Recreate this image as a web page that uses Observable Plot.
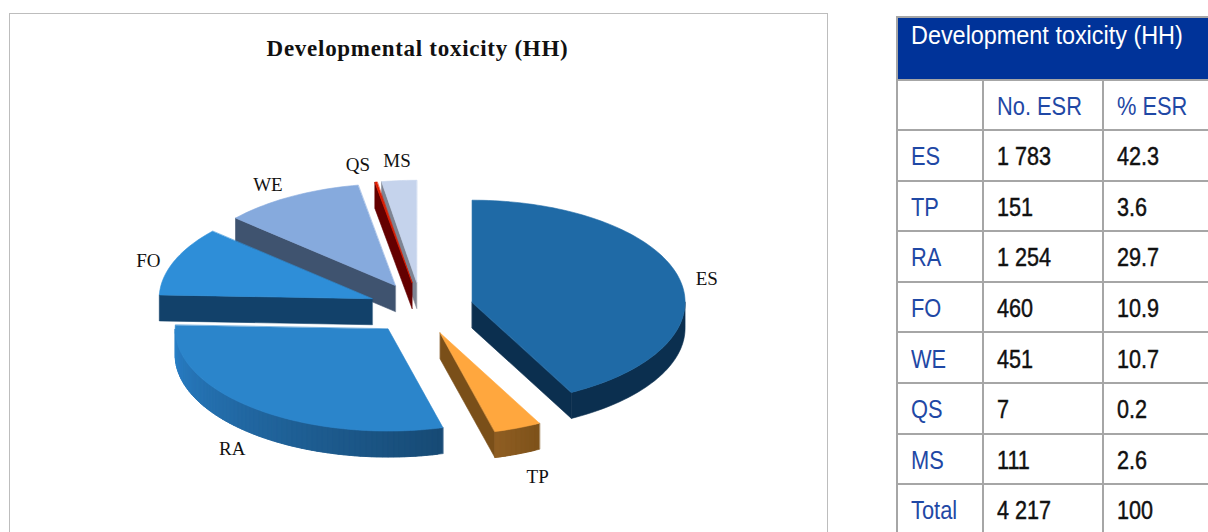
<!DOCTYPE html>
<html>
<head>
<meta charset="utf-8">
<script src="https://cdn.jsdelivr.net/npm/d3@7"></script>
<script src="https://cdn.jsdelivr.net/npm/@observablehq/plot@0.6"></script>
<style>
  html, body { margin: 0; padding: 0; background: #fff; }
  #page { position: relative; width: 1208px; height: 532px; overflow: hidden; background: #fff; }
  #frame { position: absolute; left: 9px; top: 13px; width: 817px; height: 540px; border: 1px solid #bdbdbd; box-sizing: content-box; }
  #frame svg { position: absolute; left: 0; top: 0; }
  #title { position: absolute; left: 0; top: 22px; width: 815px; text-align: center; font: bold 23px "Liberation Serif", serif; letter-spacing: 0.72px; color: #111; }
  table { position: absolute; left: 896px; top: 16px; width: 314px; height: 517px; border-collapse: collapse; table-layout: fixed; font-family: "Liberation Sans", sans-serif; font-size: 26px; }
  td, th { border: 2px solid #a6a6a6; padding: 3px 0 0 13px; text-align: left; font-weight: normal; white-space: nowrap; overflow: hidden; }
  td span, th span { display: inline-block; transform-origin: 0 50%; transform: scaleX(0.84); }
  th span { transform: scaleX(0.9); }
  td.val span { transform: scaleX(0.83); }
  th.head { background: #003399; color: #fff; vertical-align: top; padding-top: 0; line-height: 34px; border-color: #a6a6a6; }
  td.lab { color: #1f48a5; }
  td.val { color: #111; -webkit-text-stroke: 0.45px #111; }
</style>
</head>
<body>
<div id="page">
  <div id="frame"><div id="title">Developmental toxicity (HH)</div></div>
  <table id="tbl"></table>
</div>
<script>
const chartTitle = "Development toxicity (HH)";
const categories = ["ES", "TP", "RA", "FO", "WE", "QS", "MS"];
const counts = [1783, 151, 1254, 460, 451, 7, 111];
const countLabels = ["1 783", "151", "1 254", "460", "451", "7", "111"];
const percents = ["42.3", "3.6", "29.7", "10.9", "10.7", "0.2", "2.6"];
const totalRow = ["Total", "4 217", "100"];
const columnHeads = ["", "No. ESR", "% ESR"];

// Styling, by slice
const topColors  = ["#1f6aa6", "#ffa73e", "#2b85cb", "#2e8ed8", "#86aadd", "#e01d00", "#c5d3ec"];
const wallColors = ["#0b2f4f", "#7a4f19", "#2a80c8", "#12416a", "#3f536f", "#640000", "#7d8492"];
const rimStart   = ["#0b2f4f", "#7d5119", "#174a74", "#12416a", "#3f536f", "#640000", "#7d8492"];
const rimEnd     = ["#0b2f4f", "#8f5e22", "#2a80c8", "#12416a", "#3f536f", "#640000", "#7d8492"];
const labelNudgeX = [28, 20, -23, -26, -23, -18, -2];
const labelNudgeY = [1, 49, 40, 0, -12, -17, -20];

// Projection of the 3-D pie
const cx = 410.5, cy = 294, rx = 213, ry = 102, depth = 26, explode = 52.6;
const W = 817, H = 540;

const total = d3.sum(counts);
let acc = 0;
const slices = counts.map((v, i) => {
  const a0 = acc / total * 360;
  acc += v;
  const a1 = acc / total * 360;
  const mid = (a0 + a1) / 2 * Math.PI / 180;
  return {i, a0, a1, mid, ax: cx + explode * Math.sin(mid), ay: cy - explode * 0.5 * Math.cos(mid)};
});
const rad = d => d * Math.PI / 180;
const edge = (s, d, z = 0) => [s.ax + rx * Math.sin(rad(d)), s.ay - ry * Math.cos(rad(d)) + z];

const polys = [];
let pid = 0;
function addPoly(points, color) {
  const id = pid++;
  points.forEach(p => polys.push({id, x: p[0], y: p[1], color}));
}
// Back to front
[6, 5, 4, 3, 2, 1, 0].forEach(k => {
  const s = slices[k];
  const apex = [s.ax, s.ay], apexLow = [s.ax, s.ay + depth];
  if (s.a1 < 180) addPoly([apex, edge(s, s.a1), edge(s, s.a1, depth), apexLow], wallColors[k]);
  if (s.a0 > 180) addPoly([apex, edge(s, s.a0), edge(s, s.a0, depth), apexLow], wallColors[k]);
  const r0 = Math.max(s.a0, 90), r1 = Math.min(s.a1, 270);
  if (r1 > r0) {
    const n = rimStart[k] === rimEnd[k] ? 1 : Math.ceil((r1 - r0) / 1.5);
    const mix = d3.interpolateRgb(rimStart[k], rimEnd[k]);
    for (let j = 0; j < n; j++) {
      const from = r0 + (r1 - r0) * j / n;
      const to = j === n - 1 ? r1 : r0 + (r1 - r0) * (j + 2) / n; // overlaps the next band so no seams show
      const arc = [];
      const m = Math.max(2, Math.ceil((to - from) / 1.5));
      for (let q = 0; q <= m; q++) arc.push(from + (to - from) * q / m);
      addPoly([...arc.map(d => edge(s, d)), ...arc.slice().reverse().map(d => edge(s, d, depth))], mix((j + 0.5) / n));
    }
  }
  const n = Math.max(2, Math.ceil((s.a1 - s.a0) / 1.5));
  const pts = [apex];
  for (let j = 0; j <= n; j++) pts.push(edge(s, s.a0 + (s.a1 - s.a0) * j / n));
  addPoly(pts, topColors[k]);
});

const labels = slices.map(s => {
  const [ex, ey] = [s.ax + rx * Math.sin(s.mid), s.ay - ry * Math.cos(s.mid)];
  return {name: categories[s.i], x: ex + labelNudgeX[s.i], y: ey + labelNudgeY[s.i]};
});

const plot = Plot.plot({
  width: W, height: H, margin: 0,
  x: {domain: [0, W], range: [0, W], axis: null},
  y: {domain: [0, H], range: [0, H], axis: null},
  style: {background: "transparent"},
  marks: [
    Plot.line(polys, {x: "x", y: "y", z: "id", fill: "color", stroke: "color", strokeWidth: 0.6, curve: "linear-closed"}),
    Plot.text(labels, {x: "x", y: "y", text: "name", fontSize: 19, fontFamily: "Liberation Serif, serif", fill: "#111", textAnchor: "middle"})
  ]
});
document.getElementById("frame").appendChild(plot);

// Companion table
const tbl = d3.select("#tbl");
const cg = tbl.append("colgroup");
[86, 120, 108].forEach(w => cg.append("col").style("width", w + "px"));
const cell = (row, cls, t) => row.append("td").attr("class", cls).append("span").text(t);
tbl.append("tr").style("height", "63px").append("th").attr("class", "head").attr("colspan", 3).append("span").text(chartTitle);
const headRow = tbl.append("tr").style("height", "50px");
columnHeads.forEach(t => cell(headRow, "lab", t));
categories.forEach((c, i) => {
  const r = tbl.append("tr").style("height", "50.6px");
  cell(r, "lab", c);
  cell(r, "val", countLabels[i]);
  cell(r, "val", percents[i]);
});
const tr = tbl.append("tr").style("height", "50.6px");
cell(tr, "lab", totalRow[0]);
cell(tr, "val", totalRow[1]);
cell(tr, "val", totalRow[2]);
</script>
</body>
</html>
